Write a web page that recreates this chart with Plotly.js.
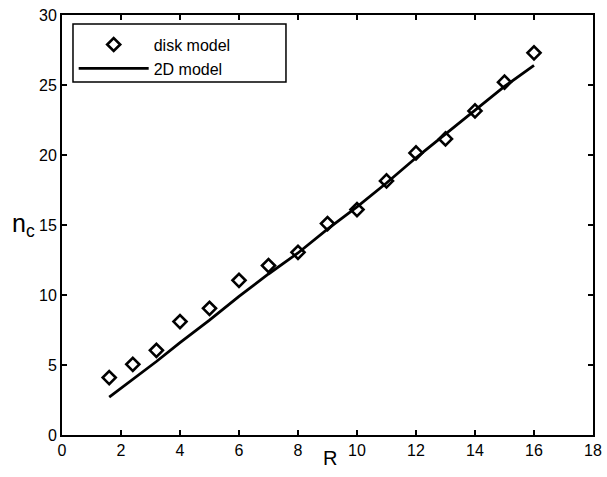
<!DOCTYPE html>
<html>
<head>
<meta charset="utf-8">
<script src="https://cdn.plot.ly/plotly-3.0.1.min.js"></script>
<style>html,body{margin:0;padding:0;background:#fff;}#chart{width:607px;height:477px;}</style>
</head>
<body>
<div id="chart"></div>
<script>
// Data
const diskR = [1.6, 2.4, 3.2, 4, 5, 6, 7, 8, 9, 10, 11, 12, 13, 14, 15, 16];
const diskNc = [4.1, 5.05, 6.05, 8.1, 9.05, 11.05, 12.1, 13.05, 15.1, 16.1, 18.15, 20.15, 21.15, 23.15, 25.2, 27.3];
const modelR = [1.6, 2.4, 3.2, 4, 5, 6, 7, 8, 9, 10, 11, 12, 13, 14, 15, 16];
const modelNc = [2.7, 3.95, 5.25, 6.6, 8.2, 9.9, 11.5, 13.0, 14.7, 16.3, 18.0, 19.8, 21.5, 23.2, 24.9, 26.4];
const xTicks = [0, 2, 4, 6, 8, 10, 12, 14, 16, 18];
const yTicks = [0, 5, 10, 15, 20, 25, 30];
const seriesNames = ['disk model', '2D model'];
const xLabel = 'R';
const yLabel = 'n<sub>c</sub>';

const FONT = 'Liberation Sans, Arial, Helvetica, sans-serif';

const traces = [
  {
    x: diskR, y: diskNc, type: 'scatter', mode: 'markers', name: seriesNames[0],
    marker: {symbol: 'diamond-open', size: 10, color: '#000', line: {color: '#000', width: 2.6}}
  },
  {
    x: modelR, y: modelNc, type: 'scatter', mode: 'lines', name: seriesNames[1],
    line: {color: '#000', width: 2.8}
  }
];

const axisCommon = {
  showgrid: false, zeroline: false, showline: true, linecolor: '#000', linewidth: 2,
  mirror: 'ticks', ticks: 'inside', ticklen: 5, tickwidth: 1.5, tickcolor: '#000',
  tickfont: {family: FONT, size: 16, color: '#000'}
};

const layout = {
  width: 607, height: 477,
  margin: {l: 62, r: 14, t: 15, b: 42},
  paper_bgcolor: '#fff', plot_bgcolor: '#fff',
  showlegend: true,
  legend: {
    x: 0.022, y: 0.97, xanchor: 'left', yanchor: 'top',
    borderwidth: 0, bgcolor: 'rgba(0,0,0,0)',
    font: {family: FONT, size: 16, color: '#000'},
    itemwidth: 70, tracegroupgap: 0
  },
  xaxis: Object.assign({}, axisCommon, {
    range: [0, 18], tickvals: xTicks, ticktext: xTicks.map(String)
  }),
  yaxis: Object.assign({}, axisCommon, {
    range: [0, 30], tickvals: yTicks, ticktext: yTicks.map(String)
  }),
  shapes: [{
    type: 'rect', xref: 'paper', yref: 'paper',
    x0: 0.0207, x1: 0.4218, y0: 0.8405, y1: 0.9786,
    line: {color: '#000', width: 1.5}, fillcolor: 'rgba(0,0,0,0)', layer: 'above'
  }],
  annotations: [
    {
      xref: 'paper', yref: 'paper', x: -0.098, y: 0.5, xanchor: 'left', yanchor: 'middle',
      text: yLabel, showarrow: false,
      font: {family: FONT, size: 25, color: '#000'}
    },
    {
      xref: 'paper', yref: 'paper', x: 0.505, y: -0.055, xanchor: 'center', yanchor: 'middle',
      text: xLabel, showarrow: false,
      font: {family: FONT, size: 20, color: '#000'}
    }
  ]
};

Plotly.newPlot('chart', traces, layout, {displayModeBar: false, staticPlot: true});
</script>
</body>
</html>
